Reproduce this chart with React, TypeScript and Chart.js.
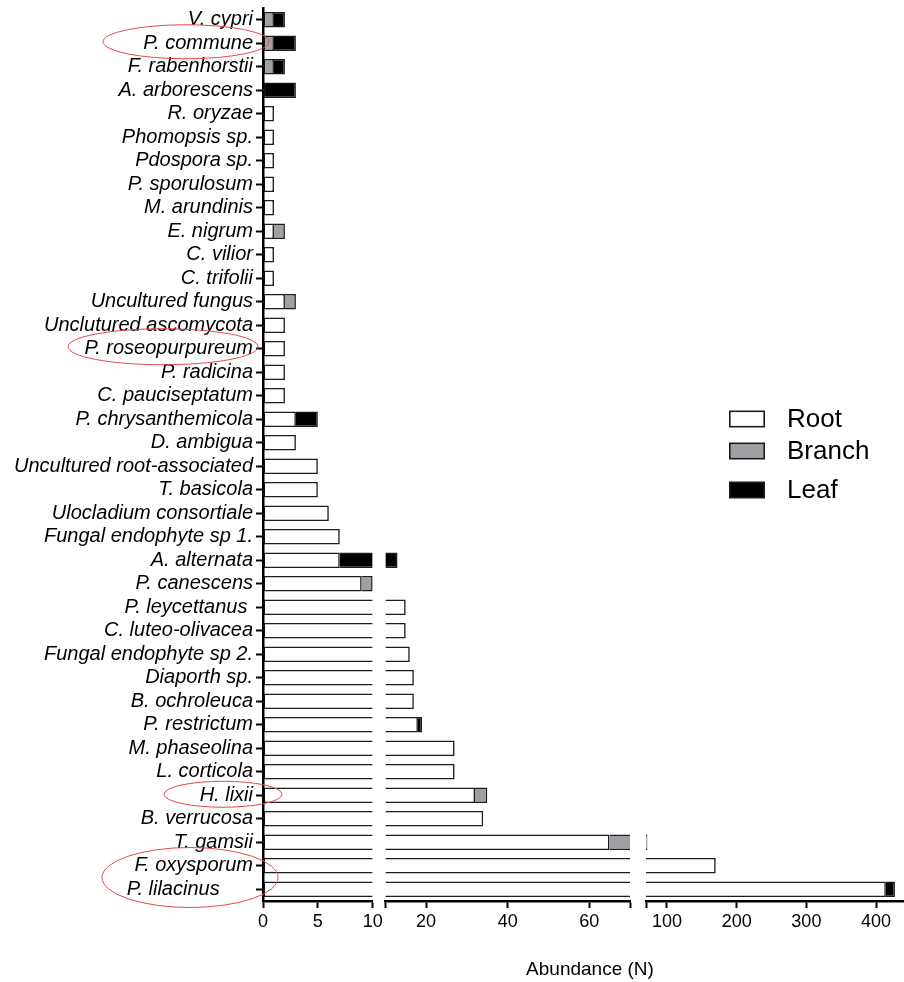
import React, { useEffect, useRef } from 'react';
import { Chart, registerables } from 'chart.js';

Chart.register(...registerables);

// ---------------- DATA ----------------
const categories = [
  'V. cypri', 'P. commune', 'F. rabenhorstii', 'A. arborescens', 'R. oryzae',
  'Phomopsis sp.', 'Pdospora sp.', 'P. sporulosum', 'M. arundinis', 'E. nigrum',
  'C. vilior', 'C. trifolii', 'Uncultured fungus', 'Unclutured ascomycota', 'P. roseopurpureum',
  'P. radicina', 'C. pauciseptatum', 'P. chrysanthemicola', 'D. ambigua', 'Uncultured root-associated',
  'T. basicola', 'Ulocladium consortiale', 'Fungal endophyte sp 1.', 'A. alternata', 'P. canescens',
  'P. leycettanus ', 'C. luteo-olivacea', 'Fungal endophyte sp 2.', 'Diaporth sp.', 'B. ochroleuca',
  'P. restrictum', 'M. phaseolina', 'L. corticola', 'H. lixii', 'B. verrucosa',
  'T. gamsii', 'F. oxysporum', 'P. lilacinus      ',
];

const rootValues = [
  0, 0, 0, 0, 1,
  1, 1, 1, 1, 1,
  1, 1, 2, 2, 2,
  2, 2, 3, 3, 5,
  5, 6, 7, 7, 9,
  15, 15, 16, 17, 17,
  18, 27, 27, 32, 34,
  65, 170, 414,
];

const branchValues = [
  1, 1, 1, 0, 0,
  0, 0, 0, 0, 1,
  0, 0, 1, 0, 0,
  0, 0, 0, 0, 0,
  0, 0, 0, 0, 1,
  0, 0, 0, 0, 0,
  0, 0, 0, 3, 0,
  7, 0, 0,
];

const leafValues = [
  1, 2, 1, 3, 0,
  0, 0, 0, 0, 0,
  0, 0, 0, 0, 0,
  0, 0, 2, 0, 0,
  0, 0, 0, 6, 0,
  0, 0, 0, 0, 0,
  1, 0, 0, 0, 0,
  0, 0, 13,
];

const seriesNames = ['Root', 'Branch', 'Leaf'];
const seriesColors = ['#ffffff', '#a0a0a4', '#000000'];

// broken x axis: value range of each segment, its ticks, and ticks without label
const segmentRanges = [[0, 10], [10, 70], [70, 440]];
const segmentTicks = [[0, 5, 10], [10, 20, 40, 60, 70], [70, 100, 200, 300, 400]];
const segmentHiddenLabels = [[], [10, 70], [70]];

const axisTitle = 'Abundance (N)';
const highlightedGroups = [['P. commune'], ['P. roseopurpureum'], ['H. lixii'], ['F. oxysporum', 'P. lilacinus']];

// ---------------- STYLE ----------------
const FONT = '"Liberation Sans", Arial, Helvetica, sans-serif';
const BW = 1.6;
const BORDER_COLOR = '#1c1c1c';
// pixel widths of the stacked x axes: seg1, gap, seg2, gap, seg3
const segmentWeights = [109.7, 244.7, 258];
const gapWeights = [12.6, 16];
const ellipseStyles = [
  { dx: -77, dy: -1.5, rx: 83, ry: 17 },
  { dx: -100, dy: -2, rx: 95, ry: 18 },
  { dx: -40, dy: -1, rx: 59, ry: 13 },
  { dx: -73, dy: 0, rx: 88, ry: 30 },
];

const series = [rootValues, branchValues, leafValues];

function partRange(s: number, i: number): [number, number] {
  let start = 0;
  for (let k = 0; k < s; k++) start += series[k][i];
  return [start, start + series[s][i]];
}

function buildDatasets() {
  const datasets: any[] = [];
  segmentRanges.forEach(([lo, hi], g) => {
    series.forEach((_vals, s) => {
      datasets.push({
        label: seriesNames[s],
        xAxisID: 'x' + (g + 1),
        yAxisID: 'y',
        data: categories.map((_c, i) => {
          const [a, b] = partRange(s, i);
          const c = Math.max(a, lo);
          const d = Math.min(b, hi);
          return d > c ? [c, d] : null;
        }),
        backgroundColor: seriesColors[s],
        borderColor: BORDER_COLOR,
        borderWidth: (ctx: any) => {
          const [a, b] = partRange(s, ctx.dataIndex);
          return {
            top: BW,
            bottom: BW,
            left: a === lo ? BW : 0,
            right: b > hi ? 0 : BW,
          };
        },
        borderSkipped: false,
        grouped: false,
        barPercentage: 0.67,
        categoryPercentage: 1,
      });
    });
  });
  return datasets;
}

function xAfterFit(scale: any) {
  scale.height = 40;
  scale.paddingLeft = 0;
  scale.paddingRight = 0;
}

function buildScales() {
  const scales: any = {
    y: {
      type: 'category',
      position: 'left',
      offset: true,
      grid: {
        display: true,
        drawOnChartArea: false,
        drawTicks: true,
        tickLength: 7,
        tickWidth: 2,
        color: '#000',
        offset: false,
      },
      border: { display: true, width: 2.5, color: '#000', z: 1 },
      ticks: {
        autoSkip: false,
        color: '#000',
        padding: 3,
        font: { family: FONT, size: 20, style: 'italic' },
      },
      afterFit: (scale: any) => {
        scale.width = 263;
        scale.paddingTop = 0;
        scale.paddingBottom = 0;
      },
    },
  };
  segmentRanges.forEach(([lo, hi], g) => {
    const tickVals = segmentTicks[g];
    const hidden = segmentHiddenLabels[g];
    scales['x' + (g + 1)] = {
      type: 'linear',
      axis: 'x',
      position: 'bottom',
      stack: 'xbroken',
      stackWeight: segmentWeights[g],
      min: lo,
      max: hi,
      offset: false,
      grid: {
        display: true,
        drawOnChartArea: false,
        drawTicks: true,
        tickLength: 7,
        tickWidth: 2,
        color: '#000',
      },
      border: { display: true, width: 2.5, color: '#000', z: 1 },
      ticks: {
        autoSkip: false,
        maxRotation: 0,
        color: '#000',
        padding: 3,
        font: { family: FONT, size: 18 },
        callback: (v: any) => (hidden.includes(Number(v)) ? '' : String(v)),
      },
      afterBuildTicks: (scale: any) => {
        scale.ticks = tickVals.map((v) => ({ value: v }));
      },
      afterFit: xAfterFit,
    };
    if (g < gapWeights.length) {
      scales['gap' + (g + 1)] = {
        type: 'linear',
        axis: 'x',
        position: 'bottom',
        stack: 'xbroken',
        stackWeight: gapWeights[g],
        min: 0,
        max: 1,
        display: true,
        grid: { display: false },
        border: { display: false },
        ticks: { display: false },
        afterFit: xAfterFit,
      };
    }
  });
  // keep order seg1, gap1, seg2, gap2, seg3
  const ordered: any = { y: scales.y };
  ['x1', 'gap1', 'x2', 'gap2', 'x3'].forEach((k) => (ordered[k] = scales[k]));
  return ordered;
}

const overlayPlugin = {
  id: 'overlay',
  afterDraw(chart: any) {
    const ctx = chart.ctx;
    const yScale = chart.scales.y;
    const left = chart.chartArea.left;
    const trimmed = categories.map((c) => c.trim());
    ctx.save();

    // red highlight ellipses
    ctx.strokeStyle = '#e8474c';
    ctx.lineWidth = 1;
    highlightedGroups.forEach((group, gi) => {
      const idx = group.map((n) => trimmed.indexOf(n));
      const ys = idx.map((i) => yScale.getPixelForValue(i));
      const cy = (Math.min(...ys) + Math.max(...ys)) / 2;
      const st = ellipseStyles[gi];
      ctx.beginPath();
      ctx.ellipse(left + st.dx, cy + st.dy, st.rx, st.ry, 0, 0, Math.PI * 2);
      ctx.stroke();
    });

    // legend
    const rowsY = [419, 451, 490];
    ctx.font = `26px ${FONT}`;
    ctx.textBaseline = 'middle';
    ctx.textAlign = 'left';
    seriesNames.forEach((name, i) => {
      const y = rowsY[i];
      ctx.fillStyle = BORDER_COLOR;
      ctx.fillRect(729, y - 8.5, 36, 17);
      ctx.fillStyle = seriesColors[i];
      ctx.fillRect(729 + BW, y - 8.5 + BW, 36 - 2 * BW, 17 - 2 * BW);
      ctx.fillStyle = '#000';
      ctx.fillText(name, 787, y + 1);
    });

    // axis title
    ctx.font = `19px ${FONT}`;
    ctx.textAlign = 'center';
    ctx.fillStyle = '#000';
    ctx.fillText(axisTitle, 590, 970);
    ctx.restore();
  },
};

export default function App() {
  const ref = useRef<HTMLCanvasElement>(null);
  useEffect(() => {
    if (!ref.current) return;
    const chart = new Chart(ref.current, {
      type: 'bar',
      data: { labels: categories, datasets: buildDatasets() },
      options: {
        indexAxis: 'y',
        responsive: false,
        animation: false,
        layout: { padding: { top: 8, right: 0, bottom: 41, left: 0 }, autoPadding: false },
        scales: buildScales(),
        plugins: {
          legend: { display: false },
          tooltip: { enabled: false },
          title: { display: false },
        },
      } as any,
      plugins: [overlayPlugin],
    });
    return () => chart.destroy();
  }, []);
  return (
    <div style={{ position: 'absolute', left: 0, top: 0, width: 904, height: 982, overflow: 'hidden', background: '#fff' }}>
      <canvas ref={ref} width={904} height={982} style={{ display: 'block' }} />
    </div>
  );
}
